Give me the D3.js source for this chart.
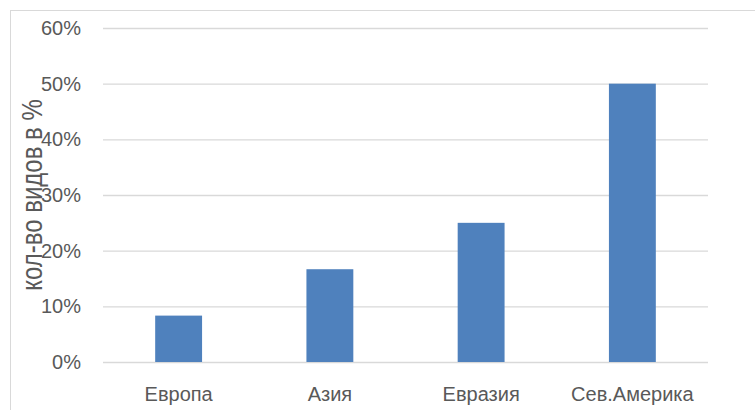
<!DOCTYPE html>
<html>
<head>
<meta charset="utf-8">
<script src="https://cdn.jsdelivr.net/npm/d3@7"></script>
<style>
  html, body { margin: 0; padding: 0; background: #fff; }
  svg { display: block; }
  text { font-family: "Liberation Sans", Arial, sans-serif; fill: #595959; }
</style>
</head>
<body>
<svg id="chart" width="755" height="410"></svg>
<script>
// Share of species by region
const regions = ["Европа", "Азия", "Евразия", "Сев.Америка"];
const shares = [1 / 12, 1 / 6, 0.25, 0.5];
const yTicks = [0, 0.1, 0.2, 0.3, 0.4, 0.5, 0.6];
const yTitle = "кол-во видов в %";

const W = 755, H = 410;
const plot = { left: 103, right: 708, top: 28, bottom: 362 };

const svg = d3.select("#chart");

// chart frame
svg.append("rect")
  .attr("x", 10.5).attr("y", 10.5)
  .attr("width", W + 10).attr("height", H + 10)
  .attr("fill", "none").attr("stroke", "#d9d9d9").attr("stroke-width", 1);

const x = d3.scaleBand().domain(regions).range([plot.left, plot.right]).paddingInner(0.69).paddingOuter(0.345);
const y = d3.scaleLinear().domain([0, 0.6]).range([plot.bottom, plot.top]);

// gridlines + y labels
const yAxis = d3.axisLeft(y).tickValues(yTicks).tickFormat(d3.format(".0%"))
  .tickSize(-(plot.right - plot.left)).tickPadding(22);
const gy = svg.append("g").attr("transform", `translate(${plot.left},0)`).call(yAxis);
gy.select(".domain").remove();
gy.selectAll(".tick line").attr("stroke", "#d9d9d9").attr("stroke-width", 1.3);
gy.selectAll(".tick text").attr("font-size", 20).attr("fill", "#595959")
  .style("font-family", "'Liberation Sans', Arial, sans-serif");

// bars
svg.append("g").selectAll("rect").data(regions).join("rect")
  .attr("x", d => x(d))
  .attr("width", x.bandwidth())
  .attr("y", (d, i) => y(shares[i]))
  .attr("height", (d, i) => y(0) - y(shares[i]))
  .attr("fill", "#4f81bd");

// category labels
const xAxis = d3.axisBottom(x).tickSize(0).tickPadding(25);
const gx = svg.append("g").attr("transform", `translate(0,${plot.bottom})`).call(xAxis);
gx.select(".domain").remove();
gx.selectAll(".tick text").attr("font-size", 20).attr("fill", "#595959")
  .style("font-family", "'Liberation Sans', Arial, sans-serif");

// y title
svg.append("text")
  .attr("transform", `translate(42,${(plot.top + plot.bottom) / 2}) scale(1.2,1) rotate(-90)`)
  .attr("text-anchor", "middle")
  .attr("font-size", 24)
  .text(yTitle);
</script>
</body>
</html>
